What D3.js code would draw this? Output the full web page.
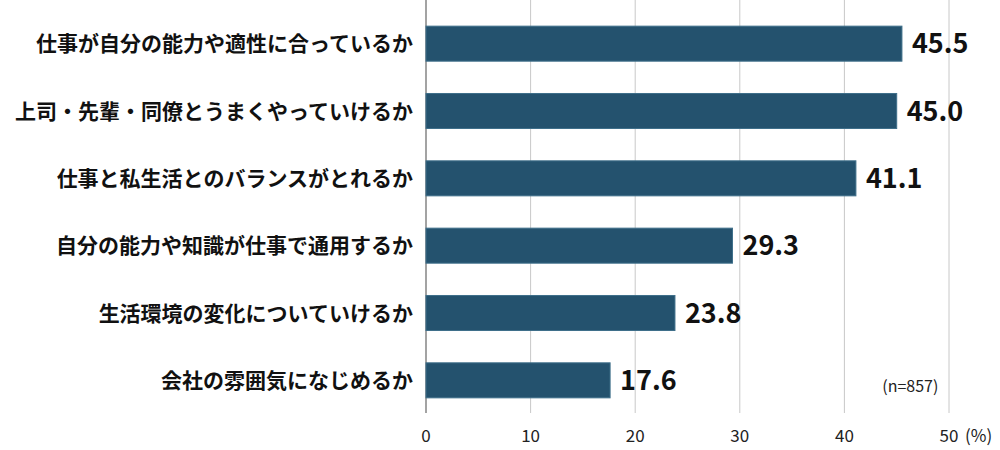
<!DOCTYPE html><html><head><meta charset="utf-8"><script src="https://cdn.jsdelivr.net/npm/d3@7"></script>
<style>body{margin:0;background:#fff}text{font-family:"Noto Sans CJK JP",sans-serif}</style></head><body>
<svg id="c" width="1000" height="450"></svg>
<script>
const categories=["仕事が自分の能力や適性に合っているか","上司・先輩・同僚とうまくやっていけるか","仕事と私生活とのバランスがとれるか","自分の能力や知識が仕事で通用するか","生活環境の変化についていけるか","会社の雰囲気になじめるか"];
const values=[45.5,45.0,41.1,29.3,23.8,17.6];
const ticks=[0,10,20,30,40,50];
const svg=d3.select("#c");
const x=d3.scaleLinear().domain([0,50]).range([426,949]);
const y=d3.scaleBand().domain(categories).range([10,414]).paddingInner(0.48).paddingOuter(0.24);
svg.selectAll(".g").data(ticks.slice(1)).join("line").attr("x1",d=>x(d)).attr("x2",d=>x(d)).attr("y1",0).attr("y2",413).attr("stroke","#c8c8c8").attr("stroke-width",1);
svg.append("line").attr("x1",x(0)).attr("x2",x(0)).attr("y1",0).attr("y2",413).attr("stroke","#666").attr("stroke-width",1.2);
svg.selectAll(".b").data(values).join("rect").attr("x",x(0)).attr("y",(d,i)=>y(categories[i])).attr("width",d=>x(d)-x(0)).attr("height",y.bandwidth()).attr("fill","#24526e").attr("stroke","#3f6f8a").attr("stroke-width",1);
svg.selectAll(".v").data(values).join("text").attr("x",d=>x(d)+10).attr("y",(d,i)=>y(categories[i])+y.bandwidth()/2).attr("dy","0.36em").attr("font-size",27).attr("font-weight","bold").attr("fill","#111").text(d=>d.toFixed(1));
svg.selectAll(".c").data(categories).join("text").attr("x",413).attr("y",d=>y(d)+y.bandwidth()/2).attr("dy","0.36em").attr("text-anchor","end").attr("font-size",21).attr("font-weight","bold").attr("fill","#111").attr("textLength",null).text(d=>d);
svg.selectAll(".t").data(ticks).join("text").attr("x",d=>x(d)).attr("y",436).attr("dy","0.36em").attr("text-anchor","middle").attr("font-size",17).attr("fill","#222").text(d=>d);
svg.append("text").attr("x",x(50)+16).attr("y",436).attr("dy","0.36em").attr("font-size",17).attr("fill","#222").text("(%)");
svg.append("text").attr("x",x(46.3)).attr("y",386).attr("dy","0.36em").attr("text-anchor","middle").attr("font-size",16).attr("fill","#222").text("(n=857)");
</script></body></html>
